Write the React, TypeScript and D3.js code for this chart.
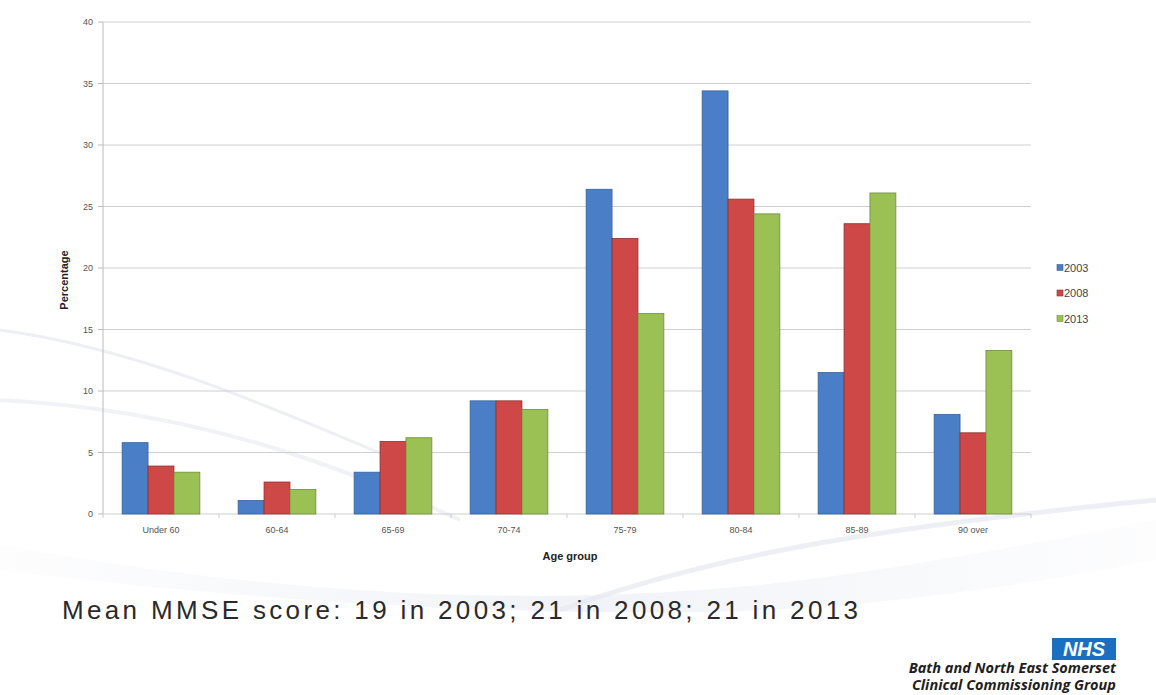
import React from "react";
import * as d3 from "d3";

const categories = ["Under 60", "60-64", "65-69", "70-74", "75-79", "80-84", "85-89", "90 over"];
const seriesNames = ["2003", "2008", "2013"];
const values2003 = [5.8, 1.1, 3.4, 9.2, 26.4, 34.4, 11.5, 8.1];
const values2008 = [3.9, 2.6, 5.9, 9.2, 22.4, 25.6, 23.6, 6.6];
const values2013 = [3.4, 2.0, 6.2, 8.5, 16.3, 24.4, 26.1, 13.3];
const yTicks = [0, 5, 10, 15, 20, 25, 30, 35, 40];
const colors = ["#4a7ec6", "#cf4848", "#9bc155"];
const strokes = ["#36619c", "#8e3030", "#6e8c3a"];

const W = 1156;
const H = 695;
const left = 103;
const right = 1031;
const top = 22;
const bottom = 514;

export default function App() {
  const series = [values2003, values2008, values2013];
  const x0 = d3.scaleBand<string>().domain(categories).range([left, right]).paddingInner(0.33).paddingOuter(0.165);
  const x1 = d3.scaleBand<string>().domain(seriesNames).range([0, x0.bandwidth()]).padding(0);
  const y = d3.scaleLinear().domain([0, 40]).range([bottom, top]);
  const step = x0.step();

  return (
    <svg width={W} height={H} style={{ position: "fixed", left: 0, top: 0, background: "#fff" }} fontFamily="Liberation Sans, Arial, sans-serif">
      <defs>
        <linearGradient id="sw" x1="0" x2="1" y1="0" y2="0">
          <stop offset="0" stopColor="#e8eaf2" stopOpacity="0.2" />
          <stop offset="0.5" stopColor="#dde0ee" stopOpacity="0.8" />
          <stop offset="1" stopColor="#e8eaf2" stopOpacity="0.2" />
        </linearGradient>
      </defs>
      {/* faint background swooshes */}
      <path d="M0,545 C250,590 500,610 760,585 C900,570 1050,540 1156,520 L1156,560 C1000,590 850,610 700,612 C450,615 200,595 0,570 Z" fill="url(#sw)" opacity="0.5" />
      <path d="M0,330 C150,350 300,420 420,470" fill="none" stroke="#e6e8ef" strokeWidth="3" opacity="0.7" />
      <path d="M0,400 C200,410 350,470 460,520" fill="none" stroke="#eaecf2" strokeWidth="4" opacity="0.7" />
      <path d="M560,610 C700,560 850,530 1156,500" fill="none" stroke="#e6e8f0" strokeWidth="5" opacity="0.7" />

      {/* gridlines */}
      {yTicks.map((t) => (
        <g key={t}>
          <line x1={left} x2={right} y1={y(t)} y2={y(t)} stroke="#cfcfcf" strokeWidth={1.2} />
          <line x1={left - 5} x2={left} y1={y(t)} y2={y(t)} stroke="#bbb" />
          <text x={left - 10} y={y(t)} dy="0.35em" textAnchor="end" fontSize={9} fill="#555">
            {t}
          </text>
        </g>
      ))}
      <line x1={left} x2={left} y1={top} y2={bottom} stroke="#bbb" />
      {categories.map((c, i) => (
        <line key={c} x1={left + step * i} x2={left + step * i} y1={bottom} y2={bottom + 4} stroke="#ccc" />
      ))}
      <line x1={right} x2={right} y1={bottom} y2={bottom + 4} stroke="#ccc" />

      {/* bars */}
      {categories.map((c, i) => (
        <g key={c} transform={`translate(${x0(c)},0)`}>
          {series.map((vals, s) => (
            <rect
              key={s}
              x={x1(seriesNames[s])}
              y={y(vals[i])}
              width={x1.bandwidth()}
              height={y(0) - y(vals[i])}
              fill={colors[s]}
              stroke={strokes[s]}
              strokeWidth={0.8}
            />
          ))}
          <text x={x0.bandwidth() / 2} y={bottom + 19} textAnchor="middle" fontSize={9} fill="#555">
            {c}
          </text>
        </g>
      ))}

      {/* axis titles */}
      <text transform={`translate(68,${(top + bottom) / 2 + 12}) rotate(-90)`} textAnchor="middle" fontSize={11} fontWeight="bold" fill="#222">
        Percentage
      </text>
      <text x={570} y={560} textAnchor="middle" fontSize={11} fontWeight="bold" fill="#222">
        Age group
      </text>

      {/* legend */}
      {seriesNames.map((n, s) => (
        <g key={n} transform={`translate(1057,${268 + s * 25.5})`}>
          <rect x={0} y={-3.5} width={6} height={6} fill={colors[s]} stroke={strokes[s]} strokeWidth={0.6} />
          <text x={7} y={0} dy="0.35em" fontSize={11} fill="#444">
            {n}
          </text>
        </g>
      ))}

      {/* caption */}
      <text x={62} y={619} fontSize={26} fill="#2a2a2a" textLength={796} lengthAdjust="spacing">
        Mean MMSE score: 19 in 2003; 21 in 2008; 21 in 2013
      </text>

      {/* NHS logo */}
      <rect x={1052} y={638} width={64} height={22} fill="#1a6fc0" />
      <text x={1084} y={656} textAnchor="middle" fontSize={20} fontWeight="bold" fontStyle="italic" fill="#fff" fontFamily="Liberation Sans, Arial, sans-serif">
        NHS
      </text>
      <text x={1116} y={673} textAnchor="end" fontSize={14.5} fontWeight="bold" fontStyle="italic" fill="#1e1e1e" fontFamily="Open Sans, Liberation Sans, sans-serif">
        Bath and North East Somerset
      </text>
      <text x={1116} y={690} textAnchor="end" fontSize={14.5} fontWeight="bold" fontStyle="italic" fill="#1e1e1e" fontFamily="Open Sans, Liberation Sans, sans-serif">
        Clinical Commissioning Group
      </text>
    </svg>
  );
}
